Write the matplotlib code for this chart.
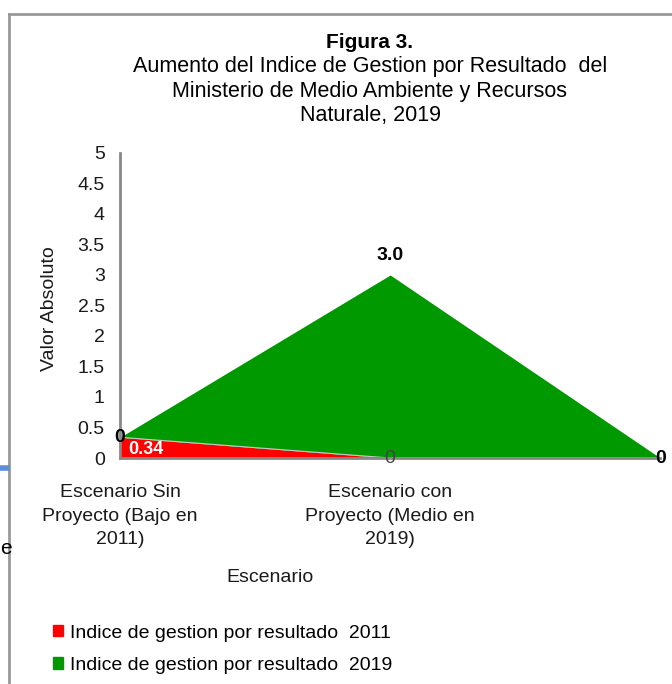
import numpy as np
import matplotlib.pyplot as plt
from matplotlib.patches import Patch
from matplotlib.lines import Line2D

plt.rcParams['font.family'] = ['Liberation Sans', 'DejaVu Sans']

categorias = ["Escenario Sin\nProyecto (Bajo en\n2011)", "Escenario con\nProyecto (Medio en\n2019)", ""]
serie_2011 = [0.34, 0, 0]
serie_2019 = [0, 3.0, 0]
etiquetas_2011 = ["0.34", "0", ""]
etiquetas_2019 = ["0", "3.0", "0"]
nombres = ["Indice de gestion por resultado  2011", "Indice de gestion por resultado  2019"]
rojo = "#ff0000"
verde = "#009900"
texto = "#1a1a1a"

fig = plt.figure(figsize=(6.72, 6.84), dpi=100)
ax = fig.add_axes([0.1786, 0.3304, 0.804, 0.446])

x = np.arange(len(categorias))
y1 = np.array(serie_2011)
y2 = y1 + np.array(serie_2019)
ax.fill_between(x, 0, y1, color=rojo, lw=0)
ax.fill_between(x, y1, y2, color=verde, lw=0)
ax.plot(x, y1, color="#c8c8c8", lw=0.8)

ax.set_xlim(0, 2)
ax.set_ylim(0, 5)
ax.set_yticks(np.arange(0, 5.01, 0.5))
ax.set_yticklabels(["0", "0.5", "1", "1.5", "2", "2.5", "3", "3.5", "4", "4.5", "5"])
ax.set_xticks(x)
ax.set_xticklabels(categorias, fontsize=14, color=texto, linespacing=1.5)
ax.tick_params(axis="y", length=0, labelsize=14, pad=11, labelcolor=texto)
ax.tick_params(axis="x", length=0, pad=19)
for s in ["top", "right"]:
    ax.spines[s].set_visible(False)
for s in ["left", "bottom"]:
    ax.spines[s].set_color("#888888")
    ax.spines[s].set_linewidth(2)
ax.spines["left"].set_zorder(5)

# etiquetas de datos
ax.text(0.03, y1[0] * 0.42, etiquetas_2011[0], color="white", fontweight="bold",
        fontsize=13, ha="left", va="center", zorder=6)
ax.text(1, 0, etiquetas_2011[1], color="#444444", fontsize=14, ha="center", va="center", zorder=6)
ax.text(0, y2[0] - 0.01, etiquetas_2019[0], color="black", fontweight="bold",
        fontsize=14, ha="center", va="center", zorder=6)
ax.text(1, y2[1] + 0.32, etiquetas_2019[1], color="black", fontweight="bold",
        fontsize=14, ha="center", va="center", zorder=6)
ax.text(2, y2[2], etiquetas_2019[2], color="black", fontweight="bold",
        fontsize=14, ha="center", va="center", zorder=6, clip_on=False)

ax.set_ylabel("Valor Absoluto", fontsize=14, color=texto)
ax.yaxis.set_label_coords(-0.115, 0.49)
fig.text(270 / 672, 1 - 577 / 684, "Escenario", fontsize=14, color=texto,
         ha="center", va="center")

fig.text(370 / 672, 1 - 42 / 684, "Figura 3.", fontsize=15, fontweight="bold",
         ha="center", va="center")
fig.text(370 / 672, 1 - 91 / 684,
         "Aumento del Indice de Gestion por Resultado  del\nMinisterio de Medio Ambiente y Recursos\nNaturale, 2019",
         fontsize=15.5, ha="center", va="center", linespacing=1.2)

handles = [Patch(color=rojo), Patch(color=verde)]
fig.legend(handles, nombres, loc="upper left", bbox_to_anchor=(35 / 672, 1 - 607 / 684),
           frameon=False, fontsize=14, handlelength=0.55, handleheight=0.55,
           handletextpad=0.35, labelspacing=0.8)

# marco de la imagen original
fig.add_artist(Line2D([8.5 / 672, 8.5 / 672], [0, 1 - 14 / 684], color="#999999", lw=2))
fig.add_artist(Line2D([8.5 / 672, 1], [1 - 14 / 684, 1 - 14 / 684], color="#999999", lw=2))
fig.add_artist(Line2D([0, 7 / 672], [1 - 468 / 684, 1 - 468 / 684], color="#5b8fd6", lw=4))
fig.text(0, 1 - 548 / 684, "e", fontsize=15, ha="left", va="center")

fig.savefig("out.png", dpi=100)
